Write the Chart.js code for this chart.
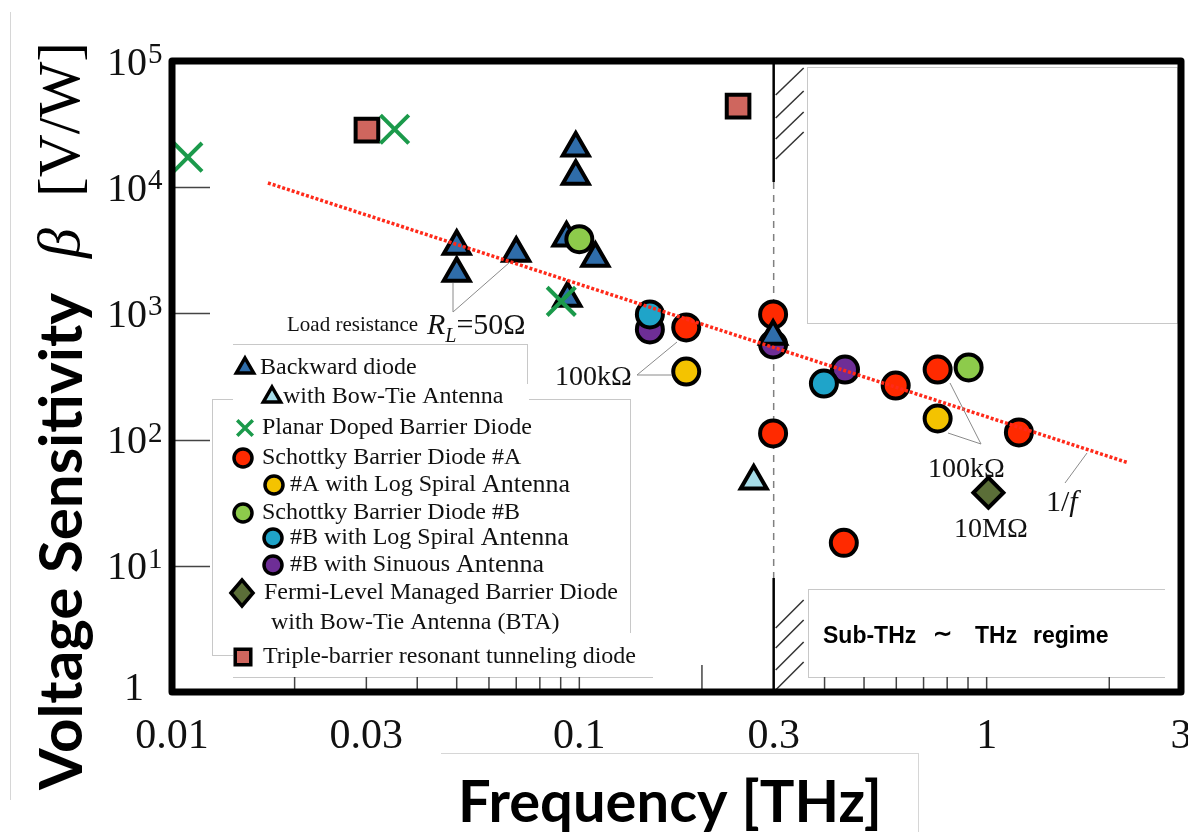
<!DOCTYPE html>
<html>
<head>
<meta charset="utf-8">
<script src="https://cdn.jsdelivr.net/npm/chart.js@4.4.1/dist/chart.umd.min.js"></script>
<style>
  html, body { margin: 0; padding: 0; background: #fff; }
  canvas { display: block; }
</style>
</head>
<body>
<canvas id="sensitivityChart" width="1188" height="832"></canvas>
<script>
// frequency [THz] / voltage sensitivity [V/W]
const backwardFreq = [0.050, 0.050, 0.070, 0.098, 0.098, 0.093, 0.1095, 0.0935, 0.299];
const backwardBeta = [3400, 2080, 3000, 20400, 12200, 3950, 2730, 1320, 660];
const bowTieFreq = [0.268];
const bowTieBeta = [47];
const pdbFreq = [0.01094, 0.0352, 0.0903];
const pdbBeta = [17300, 28800, 1245];
const sbdAFreq = [0.183, 0.299, 0.299, 0.446, 0.598, 0.758, 1.2];
const sbdABeta = [774, 982, 112, 15.2, 268, 359, 114];
const sbdALogFreq = [0.183, 0.758];
const sbdALogBeta = [346, 147];
const sbdBFreq = [0.1, 0.903];
const sbdBBeta = [3870, 373];
const sbdBLogFreq = [0.149, 0.3985];
const sbdBLogBeta = [982, 278];
const sbdBSinFreq = [0.149, 0.299, 0.449];
const sbdBSinBeta = [746, 567, 359];
const fmbdFreq = [1.01];
const fmbdBeta = [38];
const trbFreq = [0.0301, 0.2453];
const trbBeta = [28300, 43900];
const oneOverFFreq = [0.0172, 2.21];
const oneOverFBeta = [10800, 66];

const xTickValues = [0.01, 0.03, 0.1, 0.3, 1, 3];
const xTickLabels = ['0.01', '0.03', '0.1', '0.3', '1', '3'];
const xMinorTicks = [0.02, 0.03, 0.04, 0.05, 0.06, 0.07, 0.08, 0.09, 0.1, 0.2, 0.4, 0.5, 0.6, 0.7, 0.8, 0.9, 1, 2];
const yTickValues = [1, 10, 100, 1000, 10000, 100000];
const yTickExponents = ['', '1', '2', '3', '4', '5'];
const regimeEdge = 0.3;

const pts = (xs, ys) => xs.map((x, i) => ({ x: x, y: ys[i] }));

function marker(label, data, style, fill, radius, order, extra) {
  return Object.assign({
    label: label,
    data: data,
    pointStyle: style,
    pointRadius: radius,
    pointBackgroundColor: fill,
    pointBorderColor: '#000',
    pointBorderWidth: 4,
    order: order
  }, extra || {});
}

const SERIF = '"Liberation Serif", "Times New Roman", serif';

function drawMarker(ctx, style, cx, cy, r, fill, stroke, lw) {
  ctx.save();
  ctx.beginPath();
  if (style === 'circle') {
    ctx.arc(cx, cy, r, 0, Math.PI * 2);
  } else if (style === 'triangle') {
    ctx.moveTo(cx, cy - r);
    ctx.lineTo(cx + r * 0.866, cy + r / 2);
    ctx.lineTo(cx - r * 0.866, cy + r / 2);
    ctx.closePath();
  } else if (style === 'rect') {
    ctx.rect(cx - r * 0.707, cy - r * 0.707, r * 1.414, r * 1.414);
  } else if (style === 'rectRot') {
    ctx.moveTo(cx - r * 0.85, cy);
    ctx.lineTo(cx, cy - r);
    ctx.lineTo(cx + r * 0.85, cy);
    ctx.lineTo(cx, cy + r);
    ctx.closePath();
  } else if (style === 'crossRot') {
    const d = r * 0.707;
    ctx.moveTo(cx - d, cy - d); ctx.lineTo(cx + d, cy + d);
    ctx.moveTo(cx + d, cy - d); ctx.lineTo(cx - d, cy + d);
  }
  if (style !== 'crossRot') { ctx.fillStyle = fill; ctx.fill(); }
  ctx.lineWidth = lw;
  ctx.strokeStyle = stroke;
  ctx.stroke();
  ctx.restore();
}

function line(ctx, x1, y1, x2, y2) {
  ctx.beginPath(); ctx.moveTo(x1, y1); ctx.lineTo(x2, y2); ctx.stroke();
}

const decorPlugin = {
  id: 'decor',
  beforeDatasetsDraw(chart) {
    const { ctx, chartArea: a, scales: { x } } = chart;
    ctx.save();
    // pasted boxes
    ctx.fillStyle = '#fff';
    ctx.fillRect(212, 344, 418, 334);
    ctx.fillRect(808, 589, 357, 88);
    ctx.strokeStyle = '#c8c8c8';
    ctx.lineWidth = 1;
    ctx.strokeRect(807.5, 67.5, 370, 256);
    line(ctx, 233, 344.5, 527, 344.5);
    line(ctx, 527.5, 344, 527.5, 384);
    line(ctx, 212, 399.5, 233, 399.5);
    line(ctx, 529, 399.5, 630, 399.5);
    line(ctx, 212.5, 399, 212.5, 655);
    line(ctx, 630.5, 399, 630.5, 633);
    line(ctx, 212, 655.5, 233, 655.5);
    line(ctx, 233, 677.5, 653, 677.5);
    line(ctx, 808.5, 589, 808.5, 677);
    line(ctx, 808, 589.5, 1165, 589.5);
    line(ctx, 808, 677.5, 1165, 677.5);
    ctx.strokeStyle = '#d6d6d6';
    line(ctx, 10.5, 12, 10.5, 800);
    line(ctx, 441, 753.5, 918, 753.5);
    line(ctx, 918.5, 753, 918.5, 832);

    // 0.3 THz boundary with hatching
    const ex = x.getPixelForValue(regimeEdge);
    ctx.strokeStyle = '#000';
    ctx.lineWidth = 2.5;
    line(ctx, ex, a.top, ex, 182);
    line(ctx, ex, 578, ex, a.bottom);
    ctx.strokeStyle = '#808080';
    ctx.lineWidth = 1.5;
    ctx.setLineDash([7, 6]);
    line(ctx, ex, 182, ex, 578);
    ctx.setLineDash([]);
    ctx.strokeStyle = '#333';
    ctx.lineWidth = 1.5;
    [95, 118, 139, 159].forEach(yy => line(ctx, ex + 2, yy, ex + 30, yy - 27));
    [628, 648, 670, 690].forEach(yy => line(ctx, ex + 2, yy, ex + 30, yy - 28));

    // regime label
    ctx.fillStyle = '#000';
    ctx.font = 'bold 23px "Liberation Sans", Arial, sans-serif';
    ctx.textBaseline = 'middle';
    ctx.textAlign = 'left';
    ctx.fillText('Sub-THz', 823, 637);
    ctx.fillText('\u223C', 933, 635);
    ctx.fillText('THz', 975, 637);
    ctx.fillText('regime', 1033, 637);
    ctx.restore();
  },
  afterDatasetsDraw(chart) {
    const ctx = chart.ctx;
    ctx.save();
    // leader lines
    ctx.strokeStyle = '#8a8a8a';
    ctx.lineWidth = 1;
    line(ctx, 453, 312, 453, 283);
    line(ctx, 453, 312, 510, 262);
    line(ctx, 637, 375, 677, 342);
    line(ctx, 637, 375, 672, 375);
    line(ctx, 981, 444, 950, 383);
    line(ctx, 981, 444, 948, 433);
    line(ctx, 1065, 483, 1087, 453);

    ctx.fillStyle = '#111';
    ctx.textBaseline = 'alphabetic';
    ctx.textAlign = 'left';
    ctx.font = '21px ' + SERIF;
    ctx.fillText('Load resistance', 287, 331);
    let cx = 427;
    ctx.font = 'italic 30px ' + SERIF;
    ctx.fillText('R', cx, 334);
    cx += ctx.measureText('R').width;
    ctx.font = 'italic 20px ' + SERIF;
    ctx.fillText('L', cx, 342);
    cx += ctx.measureText('L').width;
    ctx.font = '30px ' + SERIF;
    ctx.fillText('=50\u03A9', cx, 334);

    ctx.font = '28px ' + SERIF;
    ctx.fillText('100k\u03A9', 555, 385);
    ctx.fillText('100k\u03A9', 928, 477);
    ctx.fillText('10M\u03A9', 954, 537);
    ctx.font = '30px ' + SERIF;
    ctx.fillText('1/', 1046, 511);
    const w1 = ctx.measureText('1/').width;
    ctx.font = 'italic 30px ' + SERIF;
    ctx.fillText('f', 1046 + w1, 511);

    // legend
    const ds = chart.data.datasets;
    const rows = [
      [1, 245, 368, 260, 368, 10, false],
      [2, 272, 397, 283, 397, 10, false],
      [3, 245, 428, 262, 428, 11, false],
      [4, 243, 458, 262, 458, 9, false],
      [5, 274, 485, 290, 485, 9, true],
      [6, 243, 513, 262, 513, 9, false],
      [7, 273, 538, 290, 538, 9, true],
      [8, 273, 565, 290, 565, 9, true],
      [9, 242, 593, 264, 593, 13, false],
      [10, 243, 657, 263, 657, 11, false]
    ];
    ctx.textBaseline = 'middle';
    rows.forEach(r => {
      const d = ds[r[0]];
      const cross = d.pointStyle === 'crossRot';
      drawMarker(ctx, d.pointStyle, r[1], r[2], r[5],
        d.pointBackgroundColor, cross ? d.pointBorderColor : '#000', 3.5);
      ctx.fillStyle = '#111';
      if (r[6]) {
        const head = d.label.replace(/Antenna$/, '');
        ctx.font = '24px ' + SERIF;
        ctx.fillText(head, r[3], r[4]);
        const hw = ctx.measureText(head).width;
        ctx.font = '26px ' + SERIF;
        ctx.fillText('Antenna', r[3] + hw, r[4]);
      } else {
        ctx.font = '24px ' + SERIF;
        ctx.fillText(d.label, r[3], r[4]);
      }
    });
    ctx.font = '24px ' + SERIF;
    ctx.fillText('with Bow-Tie Antenna (BTA)', 271, 623);
    ctx.restore();
  },
  afterDraw(chart) {
    const { ctx, chartArea: a, scales: { x, y } } = chart;
    ctx.save();
    // ticks
    ctx.strokeStyle = '#444';
    ctx.lineWidth = 1.5;
    yTickValues.slice(1, -1).forEach(v => {
      const py = Math.round(y.getPixelForValue(v)) + 0.5;
      line(ctx, a.left, py, a.left + 38, py);
    });
    xMinorTicks.forEach(v => {
      const px = x.getPixelForValue(v);
      line(ctx, px, a.bottom, px, a.bottom - (v === 0.2 ? 27 : 15));
    });
    // frame
    ctx.strokeStyle = '#000';
    ctx.lineWidth = 7;
    ctx.lineJoin = 'round';
    ctx.strokeRect(a.left, a.top, a.right - a.left, a.bottom - a.top);

    // tick labels
    ctx.fillStyle = '#111';
    ctx.textBaseline = 'alphabetic';
    yTickValues.forEach((v, i) => {
      const py = y.getPixelForValue(v);
      if (!yTickExponents[i]) {
        ctx.font = '40px ' + SERIF;
        ctx.textAlign = 'center';
        ctx.fillText('1', 134, py + 8);
        return;
      }
      ctx.font = '40px ' + SERIF;
      ctx.textAlign = 'right';
      ctx.fillText('10', 147, py + 13.5);
      ctx.font = '29px ' + SERIF;
      ctx.textAlign = 'left';
      ctx.fillText(yTickExponents[i], 148, py + 2);
    });
    ctx.font = '42px ' + SERIF;
    ctx.textAlign = 'center';
    xTickValues.forEach((v, i) => {
      ctx.fillText(xTickLabels[i], x.getPixelForValue(v), 748);
    });

    // axis titles
    ctx.fillStyle = '#000';
    const sans = '"Lato", "Open Sans", sans-serif';
    ctx.font = 'bold 60px ' + sans;
    let fs = 60 * 424 / ctx.measureText('Frequency [THz]').width;
    ctx.font = 'bold ' + fs + 'px ' + sans;
    ctx.textAlign = 'center';
    ctx.fillText('Frequency [THz]', 670, 822);

    ctx.translate(82, 790);
    ctx.rotate(-Math.PI / 2);
    ctx.textAlign = 'left';
    ctx.font = 'bold 60px ' + sans;
    fs = 60 * 497 / ctx.measureText('Voltage Sensitivity').width;
    ctx.font = 'bold ' + fs + 'px ' + sans;
    ctx.fillText('Voltage Sensitivity', 0, 0);
    ctx.font = 'italic 60px ' + SERIF;
    ctx.fillText('\u03B2', 532, -3);
    ctx.font = '60px ' + SERIF;
    fs = 60 * 155 / ctx.measureText('[V/W]').width;
    ctx.font = fs + 'px ' + SERIF;
    ctx.fillText('[V/W]', 593, -3);
    ctx.restore();
  }
};

new Chart(document.getElementById('sensitivityChart'), {
  type: 'scatter',
  data: {
    datasets: [
      {
        type: 'line',
        label: '1/f',
        data: pts(oneOverFFreq, oneOverFBeta),
        borderColor: '#FF2A1A',
        borderWidth: 3.5,
        borderDash: [3, 2],
        pointRadius: 0,
        showLine: true,
        fill: false,
        order: 0
      },
      marker('Backward diode', pts(backwardFreq, backwardBeta), 'triangle', '#2F6DAA', 15, 6),
      marker('with Bow-Tie Antenna', pts(bowTieFreq, bowTieBeta), 'triangle', '#A6DCE8', 15, 2),
      marker('Planar Doped Barrier Diode', pts(pdbFreq, pdbBeta), 'crossRot', '#1B9A4B', 20, 1,
        { pointBorderColor: '#1B9A4B', pointBorderWidth: 4 }),
      marker('Schottky Barrier Diode #A', pts(sbdAFreq, sbdABeta), 'circle', '#FF2A00', 13, 8),
      marker('#A with Log Spiral Antenna', pts(sbdALogFreq, sbdALogBeta), 'circle', '#F4C300', 13, 7),
      marker('Schottky Barrier Diode #B', pts(sbdBFreq, sbdBBeta), 'circle', '#8DCB4B', 13, 5),
      marker('#B with Log Spiral Antenna', pts(sbdBLogFreq, sbdBLogBeta), 'circle', '#1FA4C9', 13, 9),
      marker('#B with Sinuous Antenna', pts(sbdBSinFreq, sbdBSinBeta), 'circle', '#6E2E96', 13, 10),
      marker('Fermi-Level Managed Barrier Diode', pts(fmbdFreq, fmbdBeta), 'rectRot', '#5B6E38', 15, 4),
      marker('Triple-barrier resonant tunneling diode', pts(trbFreq, trbBeta), 'rect', '#CF665E', 16, 3)
    ]
  },
  options: {
    responsive: false,
    animation: false,
    events: [],
    layout: { autoPadding: false, padding: { left: 172, right: 7, top: 61, bottom: 140 } },
    plugins: {
      legend: { display: false },
      tooltip: { enabled: false }
    },
    scales: {
      x: { type: 'logarithmic', min: 0.01, max: 3, display: false },
      y: { type: 'logarithmic', min: 1, max: 100000, display: false }
    }
  },
  plugins: [decorPlugin]
});
</script>
</body>
</html>
